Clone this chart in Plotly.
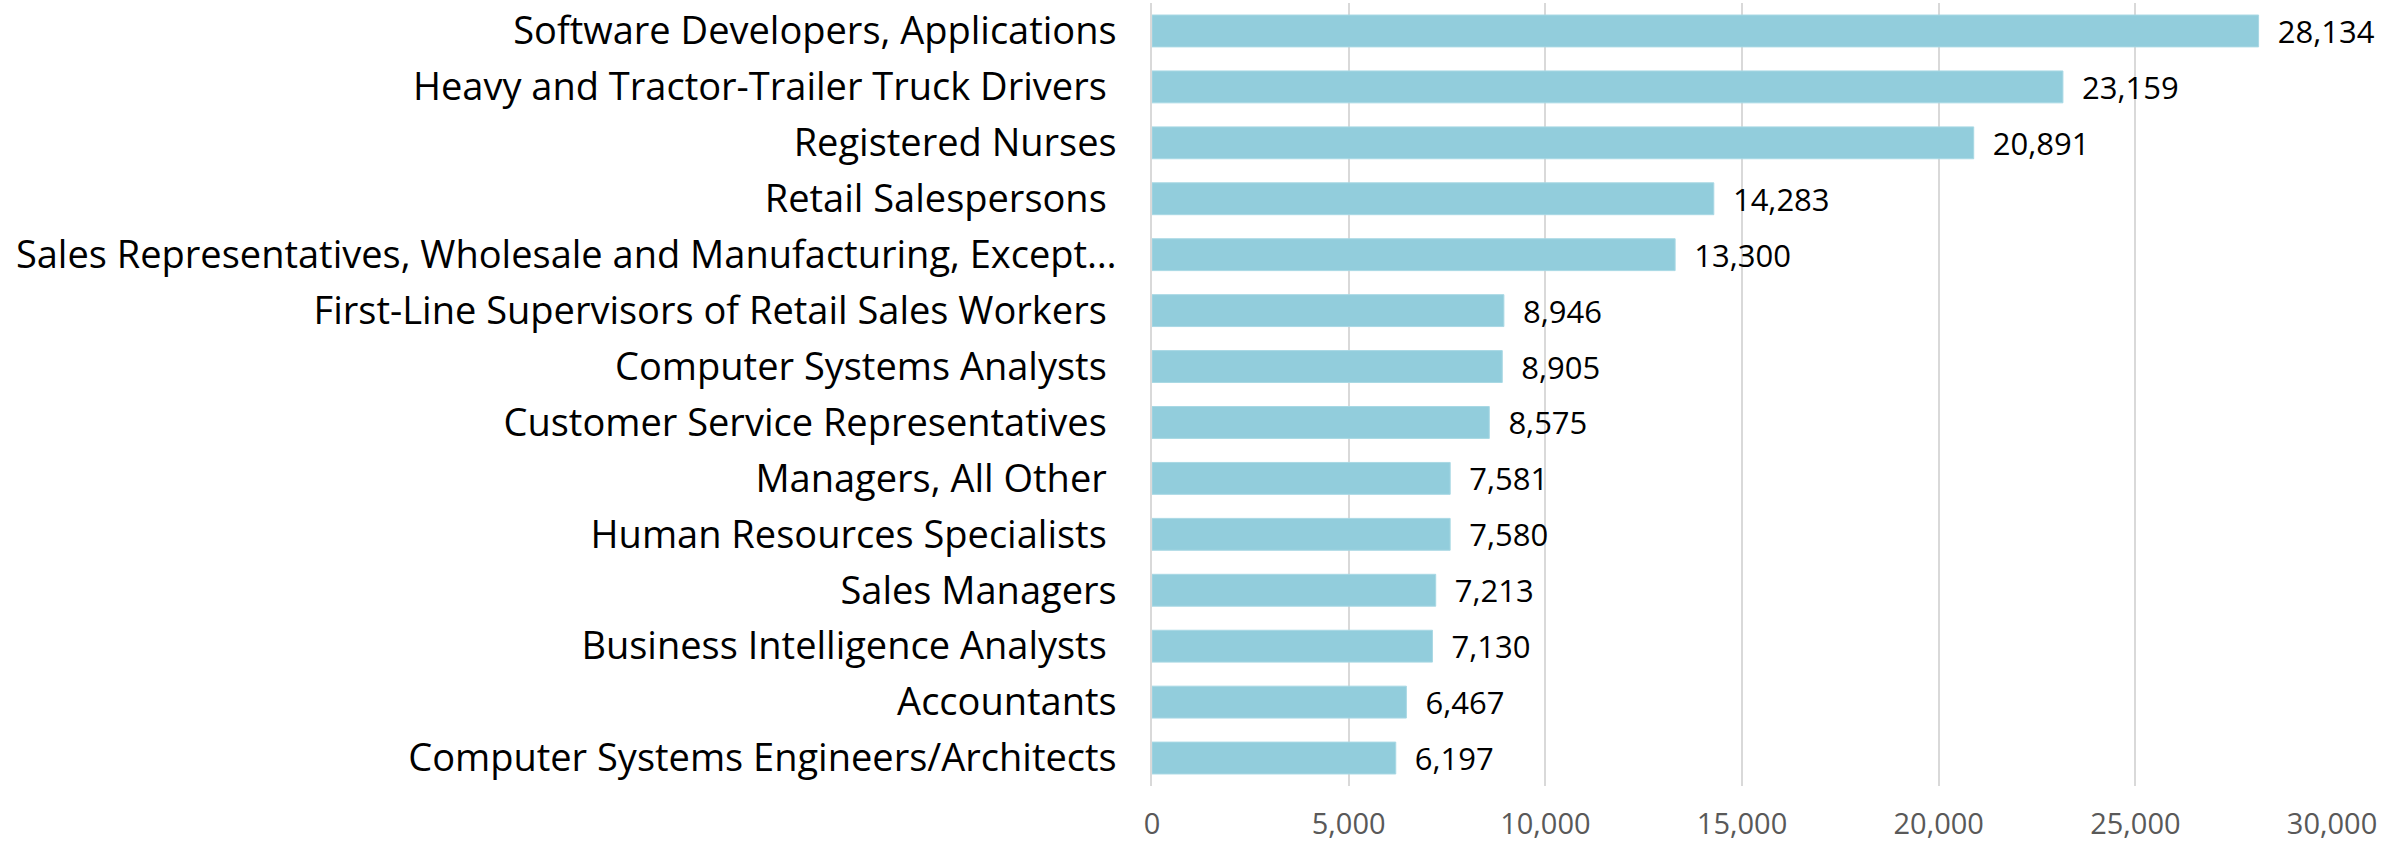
import plotly.graph_objects as go

occupations = [
    "Software Developers, Applications",
    "Heavy and Tractor-Trailer Truck Drivers\u00a0",
    "Registered Nurses",
    "Retail Salespersons\u00a0",
    "Sales Representatives, Wholesale and Manufacturing, Except\u2026",
    "First-Line Supervisors of Retail Sales Workers\u00a0",
    "Computer Systems Analysts\u00a0",
    "Customer Service Representatives\u00a0",
    "Managers, All Other\u00a0",
    "Human Resources Specialists\u00a0",
    "Sales Managers",
    "Business Intelligence Analysts\u00a0",
    "Accountants",
    "Computer Systems Engineers/Architects",
]
postings = [28134, 23159, 20891, 14283, 13300, 8946, 8905, 8575, 7581, 7580, 7213, 7130, 6467, 6197]
value_labels = [f"{v:,}" for v in postings]
x_ticks = [0, 5000, 10000, 15000, 20000, 25000, 30000]
x_tick_text = [f"{v:,}" for v in x_ticks]

FONT = "Open Sans, Lato, sans-serif"

fig = go.Figure(go.Bar(
    x=postings,
    y=occupations,
    orientation="h",
    marker=dict(color="#92CDDC", line=dict(color="#A8D8E4", width=1)),
    text=value_labels,
    texttemplate="\u00a0\u00a0%{text}",
    textposition="outside",
    constraintext="none",
    textfont=dict(family=FONT, size=31, color="#000000"),
    cliponaxis=False,
))

fig.update_layout(
    width=2407, height=844,
    margin=dict(l=1152, r=75, t=3, b=58),
    paper_bgcolor="white", plot_bgcolor="white",
    bargap=0.43,
    showlegend=False,
    font=dict(family=FONT),
)
fig.update_xaxes(
    range=[0, 30000],
    tickvals=x_ticks, ticktext=x_tick_text,
    showgrid=True, gridcolor="#D9D9D9", gridwidth=1.5,
    zeroline=False, showline=False,
    tickfont=dict(family=FONT, size=29, color="#595959"),
    ticklabelstandoff=18,
)
fig.update_yaxes(
    autorange="reversed",
    showline=True, linecolor="#D9D9D9", linewidth=1.5,
    tickfont=dict(family=FONT, size=38, color="#000000"),
    ticklabelstandoff=26,
    automargin=False,
)

fig.write_html("out.html", config={"displayModeBar": False},
               post_script="document.body.style.margin='0';")
